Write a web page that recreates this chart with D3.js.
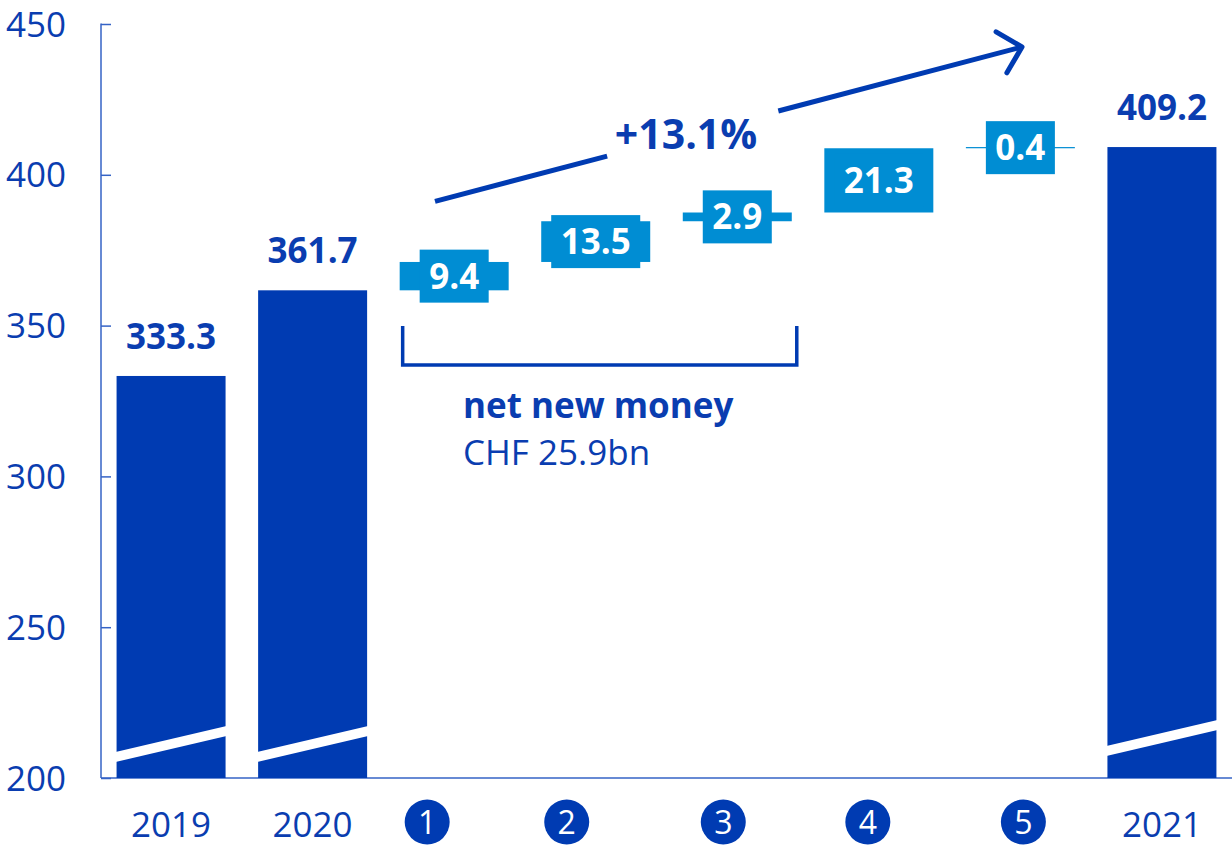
<!DOCTYPE html>
<html>
<head>
<meta charset="utf-8">
<script src="https://cdn.jsdelivr.net/npm/d3@7"></script>
<style>
  html, body { margin: 0; padding: 0; background: #fff; }
  svg { display: block; font-family: "Open Sans", "Noto Sans", sans-serif; }
</style>
</head>
<body>
<svg id="chart" width="1232" height="847"></svg>
<script>
// Invested assets, CHF bn: year-end totals and the five drivers in between
const categories = ["2019", "2020", "1", "2", "3", "4", "5", "2021"];
const totalYears = ["2019", "2020", "2021"];
const totalValues = [333.3, 361.7, 409.2];
const stepKeys = ["1", "2", "3", "4", "5"];
const stepValues = [9.4, 13.5, 2.9, 21.3, 0.4];
const yTicks = [200, 250, 300, 350, 400, 450];
const growthLabel = "+13.1%";
const nnmTitle = "net new money";
const nnmValue = "CHF 25.9bn";

const DARK = "#003bb2";
const LIGHT = "#008dd3";
const AXIS = "#3563c6";
const TEXT = "#0a3db0";

const svg = d3.select("#chart");
const W = 1232, H = 847;
const plot = { left: 101, right: 1232, top: 24, bottom: 778 };

const x = d3.scaleBand()
  .domain(categories)
  .range([plot.left, plot.right])
  .paddingInner(0.23)
  .paddingOuter(0.11);

const y = d3.scaleLinear()
  .domain([200, 450])
  .range([plot.bottom, plot.top]);

// ---- axes ----
const yAxis = d3.axisRight(y).tickValues(yTicks).tickSize(10).tickFormat("");
const gy = svg.append("g").attr("transform", `translate(${plot.left},0)`).call(yAxis);
gy.select(".domain").attr("stroke", AXIS).attr("stroke-width", 1.5)
  .attr("d", `M0,${plot.top - 0.5}V${plot.bottom}`);
gy.selectAll(".tick line").attr("stroke", AXIS).attr("stroke-width", 1.5);

svg.append("g").selectAll("text").data(yTicks).join("text")
  .attr("x", 66).attr("y", d => y(d)).attr("dy", "0.36em")
  .attr("text-anchor", "end").attr("fill", TEXT)
  .attr("font-size", 35).text(d => d);

svg.append("line")
  .attr("x1", plot.left).attr("x2", plot.right)
  .attr("y1", plot.bottom).attr("y2", plot.bottom)
  .attr("stroke", AXIS).attr("stroke-width", 1.5);

// ---- year-end totals ----
const totals = totalYears.map((k, i) => ({ key: k, value: totalValues[i] }));
const gTotals = svg.append("g");
gTotals.selectAll("rect").data(totals).join("rect")
  .attr("x", d => x(d.key)).attr("width", x.bandwidth())
  .attr("y", d => y(d.value)).attr("height", d => plot.bottom - y(d.value))
  .attr("fill", DARK);

// axis-break band across each total bar
const breakLift = [0, 0, 6];
gTotals.selectAll("path.brk").data(totals).join("path")
  .attr("class", "brk")
  .attr("d", (d, i) => {
    const x0 = x(d.key) - 1, x1 = x(d.key) + x.bandwidth() + 1;
    const yl = plot.bottom - 21 - breakLift[i], yr = plot.bottom - 47 - breakLift[i];
    return `M${x0},${yl - 5}L${x1},${yr - 5}L${x1},${yr + 5}L${x0},${yl + 5}Z`;
  })
  .attr("fill", "#fff");

gTotals.selectAll("text").data(totals).join("text")
  .attr("x", d => x(d.key) + x.bandwidth() / 2)
  .attr("y", d => y(d.value) - 27)
  .attr("text-anchor", "middle").attr("fill", TEXT)
  .attr("font-size", 35).attr("font-weight", 700)
  .text(d => d.value.toFixed(1));

// ---- waterfall steps ----
let running = totalValues[1];
const steps = stepKeys.map((k, i) => {
  const s = { key: k, value: stepValues[i], start: running, end: running + stepValues[i] };
  running = s.end;
  return s;
});

const gSteps = svg.append("g");
gSteps.selectAll("rect.bar").data(steps).join("rect")
  .attr("class", "bar")
  .attr("x", d => x(d.key)).attr("width", x.bandwidth())
  .attr("y", d => y(d.end)).attr("height", d => Math.max(1.2, y(d.start) - y(d.end)))
  .attr("fill", LIGHT);

const stepLabels = gSteps.selectAll("g.lab").data(steps).join("g").attr("class", "lab");
const labBox = stepLabels.append("rect").attr("fill", LIGHT);
const labText = stepLabels.append("text")
  .attr("x", d => x(d.key) + x.bandwidth() / 2)
  .attr("y", d => (y(d.start) + y(d.end)) / 2)
  .attr("dy", "0.36em")
  .attr("text-anchor", "middle").attr("fill", "#fff")
  .attr("font-size", 35).attr("font-weight", 700)
  .text(d => d.value.toFixed(1));
labText.each(function (d) {
  const w = this.getComputedTextLength() + 19;
  const cy = (y(d.start) + y(d.end)) / 2;
  d3.select(this.previousSibling)
    .attr("x", x(d.key) + x.bandwidth() / 2 - w / 2).attr("width", w)
    .attr("y", cy - 26.5).attr("height", 53);
});

// ---- growth arrow ----
const a0 = [435, y(391.2)], a1 = [1022, y(442.4)];
const dx = a1[0] - a0[0], dy = a1[1] - a0[1], len = Math.hypot(dx, dy);
const ux = dx / len, uy = dy / len;
const at = t => [a0[0] + ux * t, a0[1] + uy * t];
const gapFrom = 178, gapTo = 355;
const gA = svg.append("g").attr("stroke", DARK).attr("stroke-width", 5).attr("fill", "none")
  .attr("stroke-linecap", "butt");
gA.append("path").attr("d", d3.line()([a0, at(gapFrom)]));
gA.append("path").attr("d", d3.line()([at(gapTo), a1]));
const wing = (ang) => {
  const c = Math.cos(ang), s = Math.sin(ang);
  const vx = -ux, vy = -uy;
  return [a1[0] + 30 * (vx * c - vy * s), a1[1] + 30 * (vx * s + vy * c)];
};
gA.append("path").attr("stroke-linecap", "round").attr("stroke-linejoin", "round")
  .attr("d", d3.line()([wing(Math.PI / 4), a1, wing(-Math.PI / 4)]));

svg.append("text")
  .attr("x", 686).attr("y", 149)
  .attr("text-anchor", "middle").attr("fill", TEXT)
  .attr("font-size", 41).attr("font-weight", 700)
  .text(growthLabel);

// ---- net new money bracket (steps 1-3) ----
const bx0 = x("1") + 3, bx1 = x("3") + x.bandwidth() + 5;
svg.append("path")
  .attr("d", `M${bx0},326V365H${bx1}V326`)
  .attr("fill", "none").attr("stroke", DARK).attr("stroke-width", 3.5);
svg.append("text").attr("x", 463).attr("y", 418)
  .attr("fill", TEXT).attr("font-size", 35).attr("font-weight", 700).text(nnmTitle);
svg.append("text").attr("x", 463).attr("y", 465)
  .attr("fill", TEXT).attr("font-size", 35).text(nnmValue);

// ---- category labels ----
svg.append("g").selectAll("text").data(totalYears).join("text")
  .attr("x", d => x(d) + x.bandwidth() / 2).attr("y", 837)
  .attr("text-anchor", "middle").attr("fill", TEXT).attr("font-size", 35)
  .text(d => d);

const badgeShift = [-27, -29, -14, -11, 3];
const badges = svg.append("g").selectAll("g").data(stepKeys).join("g")
  .attr("transform", (d, i) => `translate(${x(d) + x.bandwidth() / 2 + badgeShift[i]},822)`);
badges.append("circle").attr("r", 22.5).attr("fill", DARK);
badges.append("text").attr("text-anchor", "middle").attr("dy", "0.36em")
  .attr("fill", "#fff").attr("font-size", 32).text(d => d);
</script>
</body>
</html>
